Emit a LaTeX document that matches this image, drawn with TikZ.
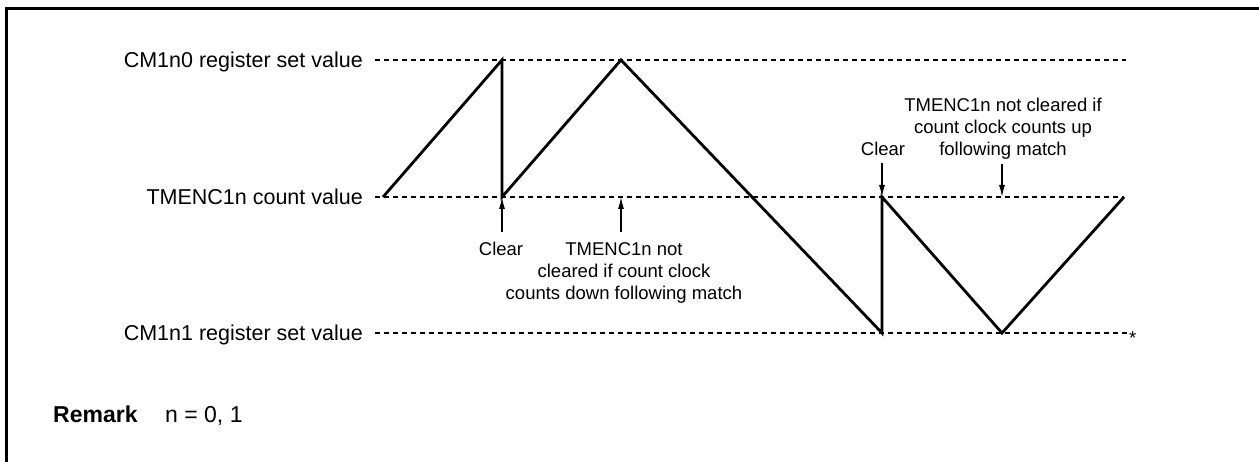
\documentclass[tikz,border=0pt]{standalone}
\usepackage{fontspec}
\setmainfont{Liberation Sans}
\usetikzlibrary{arrows.meta}
\begin{document}
\begin{tikzpicture}[x=1pt,y=-1pt,
  lbl/.style={inner sep=0pt,font=\fontsize{21.5}{22}\selectfont},
  note/.style={inner sep=0pt,align=center,font=\fontsize{18.5}{22}\selectfont},
  rem/.style={inner sep=0pt,font=\fontsize{23}{24}\selectfont},
  guide/.style={line width=1.4pt,dash pattern=on 5pt off 4pt},
  wave/.style={line width=2.8pt,line join=miter},
  arr/.style={line width=1.3pt,-{Latex[length=12pt,width=6pt]}},
  frame/.style={line width=3pt}]
\useasboundingbox (0,0) rectangle (1259,462);
\draw[frame] (6,462) -- (6,9) -- (1259,9);
% level labels
\node[lbl,anchor=base east] (lt) at (363,68) {CM1n0 register set value};
\node[lbl,anchor=base east] (lm) at (363,205) {TMENC1n count value};
\node[lbl,anchor=base east] (lb) at (363,341) {CM1n1 register set value};
\coordinate (te) at (1126,60);
\coordinate (me) at (1124,197);
\coordinate (be) at (1128,333);
\draw[guide] ([xshift=12pt]lt.east |- 0,60) -- (te);
\draw[guide] ([xshift=12pt]lm.east |- 0,197) -- (me);
\draw[guide] ([xshift=12pt]lb.east |- 0,333) -- (be);
\node[note,anchor=base west] (star) at (1129,345) {*};
% waveform
\coordinate (A) at (383,197);
\coordinate (B) at (502,60);
\coordinate (C) at (502,197);
\coordinate (D) at (621,60);
\coordinate (E) at (882,333);
\coordinate (F) at (882,197);
\coordinate (G) at (1002,333);
\coordinate (H) at (1124,197);
\draw[wave] (A) -- (B) -- (C) -- (D) -- (E) -- (F) -- (G) -- (H);
% annotations below
\node[note,anchor=north] (clr1) at (501,242) {Clear};
\node[note,anchor=north] (nc1) at (624,242) {TMENC1n not\\cleared if count clock\\counts down following match};
\coordinate (m1) at (621,197);
\draw[arr] ([yshift=10pt]clr1.north -| C) -- (C);
\draw[arr] ([yshift=10pt]nc1.north -| m1) -- (m1);
% annotations above
\node[note,anchor=base] (clr2) at (883,155.5) {Clear};
\node[note,anchor=north] (nc2) at (1003,98) {TMENC1n not cleared if\\count clock counts up\\following match};
\coordinate (m2) at (1002,197);
\draw[arr] ([yshift=-7pt]clr2.south -| F) -- (F);
\draw[arr] ([yshift=-4pt]nc2.south -| m2) -- (m2);
% remark
\node[rem,anchor=base west,font=\fontsize{23}{24}\selectfont\bfseries] (rm) at (53,422) {Remark};
\node[rem,anchor=base west] (rv) at (165,422) {n = 0, 1};
\end{tikzpicture}
\end{document}
